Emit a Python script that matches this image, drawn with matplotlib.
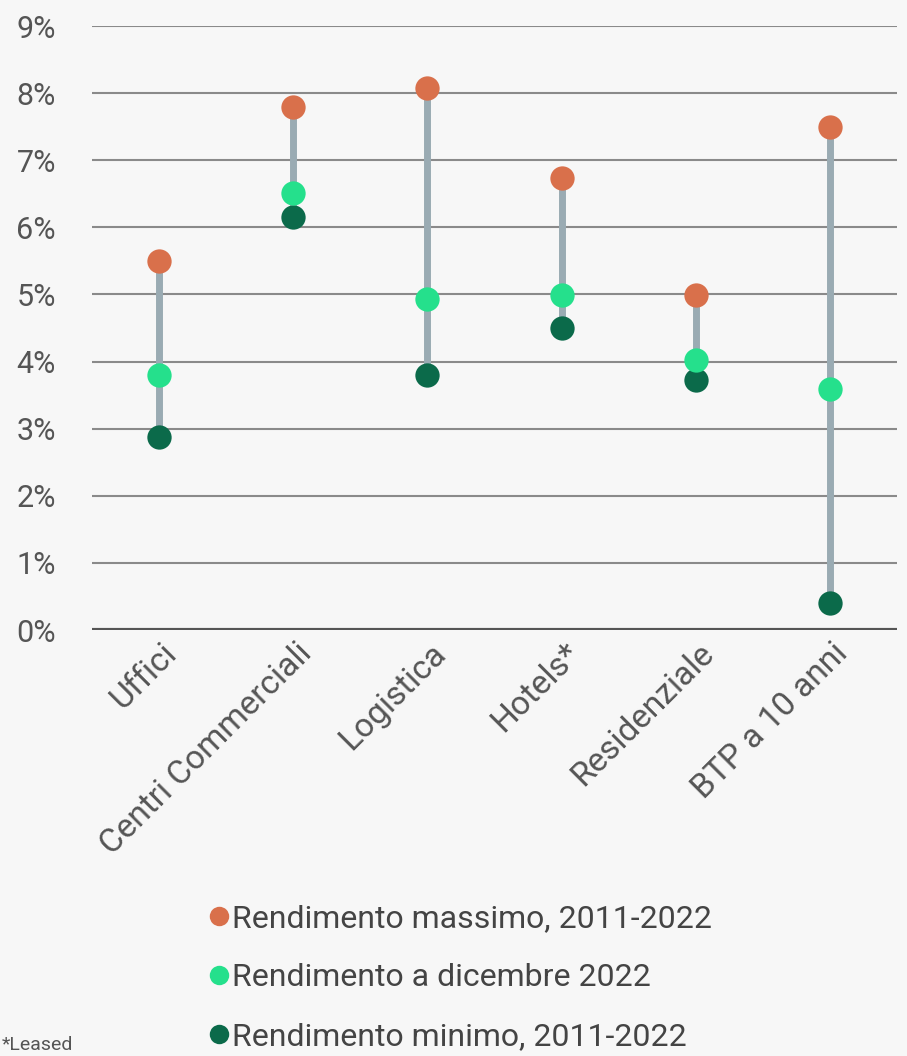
import matplotlib
matplotlib.use("Agg")
import matplotlib.pyplot as plt
import matplotlib.transforms as mtransforms
from matplotlib.lines import Line2D

plt.rcParams['font.family'] = ['Roboto', 'DejaVu Sans']

categories = ["Uffici", "Centri Commerciali", "Logistica", "Hotels*",
              "Residenziale", "BTP a 10 anni"]
rend_max = [5.50, 7.79, 8.08, 6.74, 4.99, 7.50]
rend_dic = [3.80, 6.51, 4.93, 4.99, 4.02, 3.59]
rend_min = [2.88, 6.15, 3.80, 4.50, 3.73, 0.40]
y_ticks = [0, 1, 2, 3, 4, 5, 6, 7, 8, 9]

labels = ["Rendimento massimo, 2011-2022",
          "Rendimento a dicembre 2022",
          "Rendimento minimo, 2011-2022"]
colors = ["#d9704b", "#25e08c", "#0b6a4a"]

bg = "#f7f7f7"
fig = plt.figure(figsize=(9.07, 10.56), dpi=100, facecolor=bg)
ax = fig.add_axes([92/907, 1 - 630/1056, 805/907, 604/1056], facecolor=bg)

x = list(range(len(categories)))
ax.vlines(x, rend_min, rend_max, color="#9aabb3", lw=5, zorder=3)
for vals, c in zip([rend_max, rend_min, rend_dic], [colors[0], colors[2], colors[1]]):
    ax.plot(x, vals, "o", ms=17.5, color=c, mec="none", zorder=4, clip_on=False)

ax.set_xlim(-0.5, len(categories) - 0.5)
ax.set_ylim(0, 9)
ax.set_yticks(y_ticks)
ax.set_yticklabels([f"{v}%" for v in y_ticks])
for v in y_ticks:
    if v == 0:
        ax.axhline(v, color="#555555", lw=3, zorder=2)
    else:
        ax.axhline(v, color="#8a8a8a", lw=1.5, zorder=1)

for s in ax.spines.values():
    s.set_visible(False)
ax.tick_params(axis="y", length=0, pad=26, labelsize=22, labelcolor="#555555")
ax.tick_params(axis="x", length=0, pad=5, labelsize=24, labelcolor="#555555")

ax.set_xticks(x)
ax.set_xticklabels(categories, rotation=45, ha="right", rotation_mode="anchor")
off = mtransforms.ScaledTranslation(2/100, 0, fig.dpi_scale_trans)
for lab in ax.get_xticklabels():
    lab.set_transform(lab.get_transform() + off)

handles = [Line2D([], [], ls="none", marker="o", ms=14, color=c, mec="none") for c in colors]
fig.legend(handles, labels, loc="upper left", bbox_to_anchor=(197/907, 1 - 891/1056),
           frameon=False, fontsize=23, labelcolor="#444444", handlelength=0.55,
           handletextpad=0.15, labelspacing=0.95, borderaxespad=0)

fig.text(2/907, 6/1056, "*Leased", fontsize=14, color="#555555", ha="left", va="baseline")

fig.savefig("out.png", dpi=100, facecolor=bg)
